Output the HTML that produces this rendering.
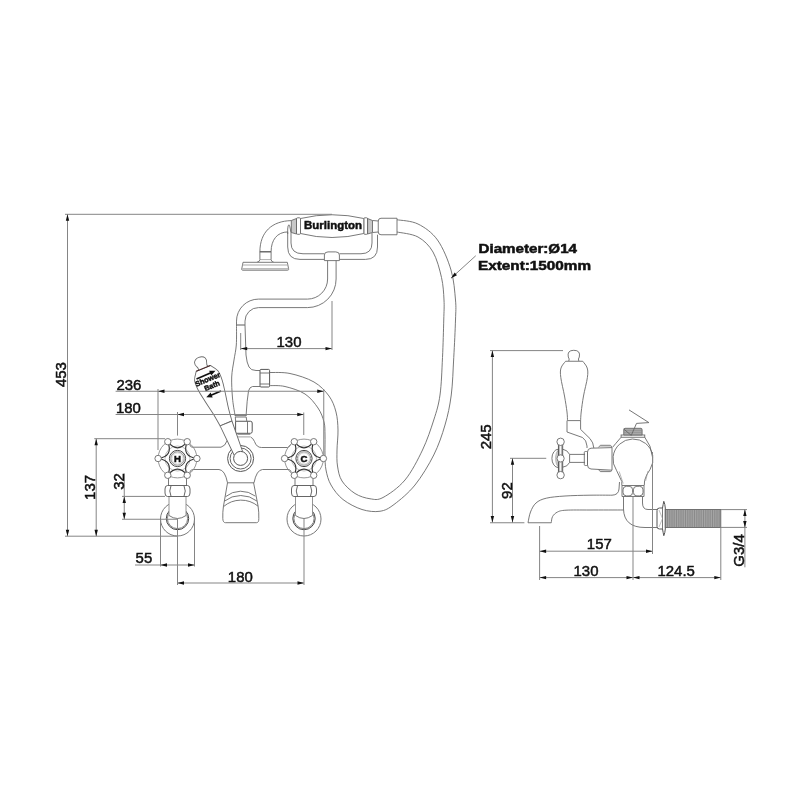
<!DOCTYPE html>
<html><head><meta charset="utf-8"><style>
html,body{margin:0;padding:0;background:#fff;}
svg{display:block;will-change:transform;}
text{font-family:"Liberation Sans",sans-serif;fill:#111;stroke:#111;stroke-width:0.5px;}
</style></head><body>
<svg width="800" height="800" viewBox="0 0 800 800">
<rect width="800" height="800" fill="#fff"/>
<path d="M269.40,385.60 C272.00,385.75 279.07,385.10 285.00,386.50 C290.93,387.90 299.50,390.42 305.00,394.00 C310.50,397.58 314.83,403.33 318.00,408.00 C321.17,412.67 322.83,417.50 324.00,422.00 C325.17,426.50 324.83,429.50 325.00,435.00 C325.17,440.50 324.83,449.17 325.00,455.00 C325.17,460.83 325.00,465.00 326.00,470.00 C327.00,475.00 328.17,480.08 331.00,485.00 C333.83,489.92 337.83,495.42 343.00,499.50 C348.17,503.58 355.83,507.54 362.00,509.50 C368.17,511.46 374.67,512.08 380.00,511.25 C385.33,510.42 388.17,508.88 394.00,504.50 C399.83,500.12 408.38,493.25 415.00,485.00 C421.62,476.75 428.75,465.00 433.75,455.00 C438.75,445.00 442.08,435.00 445.00,425.00 C447.92,415.00 449.79,406.25 451.25,395.00 C452.71,383.75 453.04,370.00 453.75,357.50 C454.46,345.00 455.21,329.58 455.50,320.00 C455.79,310.42 456.25,308.33 455.50,300.00 C454.75,291.67 454.00,280.00 451.00,270.00 C448.00,260.00 443.00,247.67 437.50,240.00 C432.00,232.33 424.75,227.38 418.00,224.00 C411.25,220.62 400.50,220.46 397.00,219.75" stroke="#6a6a6a" stroke-width="0.9" fill="none"/>
<path d="M269.40,372.50 C272.83,372.67 282.57,371.92 290.00,373.50 C297.43,375.08 307.50,378.25 314.00,382.00 C320.50,385.75 325.33,391.00 329.00,396.00 C332.67,401.00 334.50,406.33 336.00,412.00 C337.50,417.67 337.83,423.67 338.00,430.00 C338.17,436.33 337.08,444.00 337.00,450.00 C336.92,456.00 336.67,460.83 337.50,466.00 C338.33,471.17 339.08,476.42 342.00,481.00 C344.92,485.58 350.33,490.54 355.00,493.50 C359.67,496.46 365.33,498.08 370.00,498.75 C374.67,499.42 377.17,500.62 383.00,497.50 C388.83,494.38 398.42,487.92 405.00,480.00 C411.58,472.08 417.71,460.00 422.50,450.00 C427.29,440.00 430.83,429.17 433.75,420.00 C436.67,410.83 438.54,405.42 440.00,395.00 C441.46,384.58 441.88,370.00 442.50,357.50 C443.12,345.00 443.50,329.58 443.75,320.00 C444.00,310.42 444.38,307.08 444.00,300.00 C443.62,292.92 443.33,285.50 441.50,277.50 C439.67,269.50 436.92,258.75 433.00,252.00 C429.08,245.25 424.00,240.33 418.00,237.00 C412.00,233.67 400.50,232.83 397.00,232.00" stroke="#6a6a6a" stroke-width="0.9" fill="none"/>
<path d="M397,218.25 L381,218.25 Q378.25,218.25 378.25,221 L378.25,232 Q378.25,234.75 381,234.75 L397,234.75 Z" stroke="#6a6a6a" stroke-width="0.9"  fill="#fff"/>
<path d="M372.5,220.5 L378.25,221 M372.5,232.5 L378.25,232" stroke="#6a6a6a" stroke-width="0.9" fill="none"/>
<path d="M367.5,218.5 L372.5,220.5 L372.5,232.5 L367.5,234 Z" stroke="#6a6a6a" stroke-width="0.9"  fill="#c8c8c8"/>
<rect x="363.8" y="217.8" width="3.8" height="16.5" rx="1" stroke="#6a6a6a" stroke-width="0.9" fill="none"/>
<path d="M291.3,220.5 L296.5,218.5 L296.5,234 L291.3,232.5 Z" stroke="#6a6a6a" stroke-width="0.9"  fill="#c8c8c8"/>
<rect x="296.5" y="217.8" width="4" height="16.5" rx="1" stroke="#6a6a6a" stroke-width="0.9" fill="none"/>
<path d="M287.7,234 L287.7,229 Q287.9,225 288.9,224.8 Q289.9,225.2 290.8,232" stroke="#6a6a6a" stroke-width="0.9" fill="none"/>
<path d="M300.5,218.5 Q332,211 363.8,218.5 L363.8,233.5 Q332,241.5 300.5,233.5 Z" stroke="#6a6a6a" stroke-width="0.9"  fill="#fff"/>
<text x="333" y="229" font-size="11.6" font-weight="bold" text-anchor="middle" textLength="58" lengthAdjust="spacingAndGlyphs">Burlington</text>
<path d="M287.7,232 L287.7,247 Q287.7,259.4 300,259.4 L324.4,259.4" stroke="#6a6a6a" stroke-width="0.9" fill="none"/>
<path d="M291,232 L291,243 Q291,253.75 303,253.75 L324.4,253.75" stroke="#6a6a6a" stroke-width="0.9" fill="none"/>
<path d="M377.5,234.75 L377.5,247 Q377.5,259.4 365.5,259.4 L339.4,259.4" stroke="#6a6a6a" stroke-width="0.9" fill="none"/>
<path d="M372,233 L372,243 Q372,253.75 361,253.75 L339.4,253.75" stroke="#6a6a6a" stroke-width="0.9" fill="none"/>
<path d="M324.4,260.6 L324.4,255 Q324.4,251.9 328,251.9 L335.8,251.9 Q339.4,251.9 339.4,255 L339.4,260.6 Z" stroke="#6a6a6a" stroke-width="0.9"  fill="#fff"/>
<path d="M327.6,260.6 L327.6,279 A20.1,20.1 0 0 1 307.5,299.1 L258.5,299.1 A22,22 0 0 0 236.5,321.1 L236.5,325" stroke="#6a6a6a" stroke-width="0.9" fill="none"/>
<path d="M336.1,260.6 L336.1,279 A28.6,28.6 0 0 1 307.5,307.6 L258.5,307.6 A13.5,13.5 0 0 0 245,321.1 L245,325" stroke="#6a6a6a" stroke-width="0.9" fill="none"/>
<path d="M236.5,325 L245,325" stroke="#777" stroke-width="1.2" fill="none"/>
<path d="M259.9,251.8 C259.9,232 272,221 291.3,220.6" stroke="#6a6a6a" stroke-width="0.9" fill="none"/>
<path d="M271.1,251.8 C271.1,240 277,232 288,231.9" stroke="#6a6a6a" stroke-width="0.9" fill="none"/>
<path d="M259.8,251.8 L271.1,251.8" stroke="#555" stroke-width="1.3" fill="none"/>
<path d="M260,259.6 L271,259.6" stroke="#999" stroke-width="0.8" fill="none"/>
<path d="M259.9,251.8 L259.9,259.6 Q259.6,262 256.9,262.3 M271.1,251.8 L271.1,259.6 Q271.4,262 273.8,262.3" stroke="#6a6a6a" stroke-width="0.9" fill="none"/>
<path d="M243,262.3 L287.3,262.3 L288.7,269.2 Q288.7,270.2 287.7,270.2 L242.7,270.2 Q241.7,270.2 241.7,269.2 Z" stroke="#6a6a6a" stroke-width="0.9"  fill="#fff"/>
<path d="M242.4,265 L288,265" stroke="#aaa" stroke-width="1.2" fill="none"/>
<path d="M242,268.9 L288.4,268.9" stroke="#bbb" stroke-width="1.6" fill="none"/>
<path d="M236.50,325.00 C236.47,328.33 236.72,339.17 236.30,345.00 C235.88,350.83 234.77,354.67 234.00,360.00 C233.23,365.33 231.95,370.67 231.70,377.00 C231.45,383.33 231.98,391.83 232.50,398.00 C233.02,404.17 234.33,411.00 234.80,414.00 C235.27,417.00 235.22,415.67 235.30,416.00" stroke="#6a6a6a" stroke-width="0.9" fill="none"/>
<path d="M245,325 L246,355 Q246.8,363 249,367 Q251,370.5 256,370.5 L260,370.5" stroke="#6a6a6a" stroke-width="0.9" fill="none"/>
<path d="M260,386.5 L252.5,386.5 Q249.5,387 248.5,391 Q247,400 246.2,414 L246.2,416" stroke="#6a6a6a" stroke-width="0.9" fill="none"/>
<path d="M261,369.4 L268.6,369.4 Q269.6,369.4 269.6,370.6 L269.6,385.8 Q269.6,387 268.6,387 L261,387 Q260,387 260,385.8 L260,370.6 Q260,369.4 261,369.4 Z" stroke="#555" stroke-width="1"  fill="#fff"/>
<path d="M260,373 L269.4,373 M260,384 L269.4,384" stroke="#6a6a6a" stroke-width="0.9" fill="none"/>
<path d="M235,415.6 L246.2,415.6 M235,417 L246.2,417" stroke="#6a6a6a" stroke-width="0.9" fill="none"/>
<path d="M235.6,421.25 L250.5,421.25 Q252.2,421.25 252.2,423 L252.2,431.5 Q252.2,433.3 250.5,433.3 L235.6,433.3 Z" stroke="#555" stroke-width="1"  fill="#fff"/>
<path d="M237.5,434.5 L250.3,434.5 M237.5,436.9 L250.3,436.9" stroke="#888" stroke-width="0.8" fill="none"/>
<path d="M247.5,421.25 L247.5,433.75" stroke="#6a6a6a" stroke-width="0.9" fill="none"/>
<path d="M235.3,417 L235.6,421.25 M246.2,417 L246.8,421.25" stroke="#6a6a6a" stroke-width="0.9" fill="none"/>
<path d="M192.5,447.2 L221,447.2 Q225,446.5 227.5,440 M250.6,437 Q253,438 254.5,441.5 Q256.5,447.5 261.5,447.5 L287.5,447.5" stroke="#6a6a6a" stroke-width="0.9" fill="none"/>
<path d="M192.5,469.5 L219,469.5 Q225,470 227.5,482.8 M289,469.5 L262.5,469.5 Q256.5,470 254,482.8" stroke="#6a6a6a" stroke-width="0.9" fill="none"/>
<path d="M227.5,482.8 L254,482.8" stroke="#6a6a6a" stroke-width="0.9" fill="none"/>
<path d="M227.5,482.8 L223.4,506.7 Q222.6,512 222.8,518.6 Q223,522.7 225.5,522.7 L256.5,522.7 Q258.9,522.7 258.8,518.6 Q259,512 258.1,506.2 L253.6,482.8" stroke="#6a6a6a" stroke-width="0.9" fill="none"/>
<path d="M225.6,496.6 A24.1,24.1 0 0 1 255.3,496.1" stroke="#6a6a6a" stroke-width="0.9" fill="none"/>
<path d="M224.5,501.1 A26.4,26.4 0 0 1 257,501.1" stroke="#6a6a6a" stroke-width="0.9" fill="none"/>
<path d="M223.4,506.7 A27,27 0 0 1 258.1,506.2" stroke="#6a6a6a" stroke-width="0.9" fill="none"/>
<circle cx="240.60" cy="458.50" r="13.0" stroke="#555" stroke-width="1"  fill="none"/>
<circle cx="240.60" cy="458.50" r="10.5" stroke="#555" stroke-width="0.9"  fill="none"/>
<g transform="translate(240.6 458.75) rotate(-22.45)">
<path d="M-6.40,-38.20 C-6.70,-40.50 -7.43,-47.20 -8.20,-52.00 C-8.97,-56.80 -10.20,-62.33 -11.00,-67.00 C-11.80,-71.67 -12.73,-76.17 -13.00,-80.00 C-13.27,-83.83 -13.50,-87.03 -12.60,-90.00 C-11.70,-92.97 -8.43,-96.50 -7.60,-97.80 L7.60,-97.80 C8.43,-96.50 11.70,-92.97 12.60,-90.00 C13.50,-87.03 13.27,-83.83 13.00,-80.00 C12.73,-76.17 11.80,-71.67 11.00,-67.00 C10.20,-62.33 8.97,-56.80 8.20,-52.00 C7.43,-47.20 6.70,-40.50 6.40,-38.20 Z" stroke="#6a6a6a" stroke-width="0.9"  fill="#fff"/>
<path d="M-5,-97.9 Q-4.3,-100 -5.3,-101.6 Q-6.8,-103.6 -5.8,-106.6 Q-4.2,-109.6 0,-109.6 Q4.2,-109.6 5.8,-106.6 Q6.8,-103.6 5.3,-101.6 Q4.3,-100 5,-97.9" stroke="#6a6a6a" stroke-width="0.9"  fill="#fff"/>
<path d="M-7.6,-97.8 L7.6,-97.8" stroke="#4a2a2a" stroke-width="1" fill="none"/>
<path d="M-6.4,-38.2 L-4.6,-6 L4.6,-6 L6.4,-38.2 Z" stroke="none" fill="#fff"/>
<path d="M-6.4,-38.2 L6.4,-38.2 M-6.4,-38.2 L-4.6,-6 M6.4,-38.2 L4.6,-6" stroke="#6a6a6a" stroke-width="0.9" fill="none"/>
</g>
<circle cx="240.60" cy="458.40" r="7.0" stroke="#555" stroke-width="1"  fill="#fff"/>
<g transform="translate(208.6 381.6) rotate(-22.45)">
<text x="0" y="0" font-size="7.3" font-weight="bold" text-anchor="middle" style="stroke-width:0.45px">Shower</text>
<text x="1.5" y="7.6" font-size="7.3" font-weight="bold" text-anchor="middle" style="stroke-width:0.45px">Bath</text>
</g>
<polygon points="215.50,370.80 211.21,375.49 209.14,370.72" fill="#111"/>
<line x1="196.5" y1="379" x2="211.5" y2="372.5" stroke="#111" stroke-width="1.7"/>
<polygon points="206.30,397.20 210.67,392.58 212.65,397.38" fill="#111"/>
<line x1="221" y1="391" x2="211" y2="395.2" stroke="#111" stroke-width="1.7"/>
<path d="M192.5,447.5 Q190,446.8 189.8,444.5" stroke="#6a6a6a" stroke-width="0.9" fill="none"/>
<path d="M192.5,469.5 Q190,470.2 189.8,472.5" stroke="#6a6a6a" stroke-width="0.9" fill="none"/>
<path d="M287.5,447.5 Q290,446.8 290.5,444.5" stroke="#6a6a6a" stroke-width="0.9" fill="none"/>
<path d="M289,469.5 Q291,470.2 291.3,472.5" stroke="#6a6a6a" stroke-width="0.9" fill="none"/>
<path d="M168.5,478 L168.5,485.5 M186.5,478 L186.5,485.5" stroke="#6a6a6a" stroke-width="0.9" fill="none"/>
<circle cx="177.50" cy="519.00" r="17" stroke="#6a6a6a" stroke-width="0.9"  fill="none"/>
<circle cx="177.50" cy="518.50" r="11.2" stroke="#444" stroke-width="1"  fill="none"/>
<circle cx="177.50" cy="518.50" r="10.1" stroke="#666" stroke-width="0.8"  fill="none"/>
<path d="M169.0,496.5 L169.0,515.5 Q177.5,521.5 186.0,515.5 L186.0,496.5" stroke="none" fill="#fff"/>
<path d="M169.0,496.5 L169.0,515.5 M186.0,515.5 L186.0,496.5" stroke="#888" stroke-width="0.9" fill="none"/>
<path d="M169.0,515.5 Q177.5,521.5 186.0,515.5" stroke="#6a6a6a" stroke-width="0.9" fill="none"/>
<path d="M167.5,485.5 L187.5,485.5 Q190.0,485.5 190.0,489 L190.0,493 Q190.0,496.5 187.5,496.5 L167.5,496.5 Q165.0,496.5 165.0,493 L165.0,489 Q165.0,485.5 167.5,485.5 Z" stroke="#555" stroke-width="0.9"  fill="#fff"/>
<path d="M171.0,485.8 Q168.5,491 171.0,496.2 M184.0,485.8 Q186.5,491 184.0,496.2" stroke="#555" stroke-width="0.9" fill="none"/>
<path d="M295,478 L295,485.5 M313,478 L313,485.5" stroke="#6a6a6a" stroke-width="0.9" fill="none"/>
<circle cx="304.00" cy="519.00" r="17" stroke="#6a6a6a" stroke-width="0.9"  fill="none"/>
<circle cx="304.00" cy="518.50" r="11.2" stroke="#444" stroke-width="1"  fill="none"/>
<circle cx="304.00" cy="518.50" r="10.1" stroke="#666" stroke-width="0.8"  fill="none"/>
<path d="M295.5,496.5 L295.5,515.5 Q304,521.5 312.5,515.5 L312.5,496.5" stroke="none" fill="#fff"/>
<path d="M295.5,496.5 L295.5,515.5 M312.5,515.5 L312.5,496.5" stroke="#888" stroke-width="0.9" fill="none"/>
<path d="M295.5,515.5 Q304,521.5 312.5,515.5" stroke="#6a6a6a" stroke-width="0.9" fill="none"/>
<path d="M294,485.5 L314,485.5 Q316.5,485.5 316.5,489 L316.5,493 Q316.5,496.5 314,496.5 L294,496.5 Q291.5,496.5 291.5,493 L291.5,489 Q291.5,485.5 294,485.5 Z" stroke="#555" stroke-width="0.9"  fill="#fff"/>
<path d="M297.5,485.8 Q295,491 297.5,496.2 M310.5,485.8 Q313,491 310.5,496.2" stroke="#555" stroke-width="0.9" fill="none"/>
<circle cx="177.50" cy="458.50" r="19.4" stroke="#8a8a8a" stroke-width="0.9"  fill="none"/>
<circle cx="177.50" cy="458.50" r="12.5" stroke="#aaa" stroke-width="0.8"  fill="none"/>
<path d="M196.90,458.50 Q181.40,456.25 187.20,441.70" stroke="#333" stroke-width="1.15" fill="none"/>
<path d="M187.20,441.70 Q177.50,454.00 167.80,441.70" stroke="#333" stroke-width="1.15" fill="none"/>
<path d="M167.80,441.70 Q173.60,456.25 158.10,458.50" stroke="#333" stroke-width="1.15" fill="none"/>
<path d="M158.10,458.50 Q173.60,460.75 167.80,475.30" stroke="#333" stroke-width="1.15" fill="none"/>
<path d="M167.80,475.30 Q177.50,463.00 187.20,475.30" stroke="#333" stroke-width="1.15" fill="none"/>
<path d="M187.20,475.30 Q181.40,460.75 196.90,458.50" stroke="#333" stroke-width="1.15" fill="none"/>
<circle cx="177.50" cy="458.50" r="8.1" stroke="#444" stroke-width="1"  fill="#fff"/>
<circle cx="177.50" cy="458.50" r="6.7" stroke="#777" stroke-width="0.8"  fill="none"/>
<circle cx="177.50" cy="458.50" r="5.6" stroke="#bbb" stroke-width="0.6"  fill="none"/>
<circle cx="196.90" cy="458.50" r="3.2" stroke="#6a6a6a" stroke-width="0.9"  fill="#fff"/>
<circle cx="187.20" cy="441.70" r="3.2" stroke="#6a6a6a" stroke-width="0.9"  fill="#fff"/>
<circle cx="167.80" cy="441.70" r="3.2" stroke="#6a6a6a" stroke-width="0.9"  fill="#fff"/>
<circle cx="158.10" cy="458.50" r="3.2" stroke="#6a6a6a" stroke-width="0.9"  fill="#fff"/>
<circle cx="167.80" cy="475.30" r="3.2" stroke="#6a6a6a" stroke-width="0.9"  fill="#fff"/>
<circle cx="187.20" cy="475.30" r="3.2" stroke="#6a6a6a" stroke-width="0.9"  fill="#fff"/>
<text x="177.5" y="461.9" font-size="9.6" font-weight="bold" text-anchor="middle">H</text>
<circle cx="304.00" cy="458.50" r="19.4" stroke="#8a8a8a" stroke-width="0.9"  fill="none"/>
<circle cx="304.00" cy="458.50" r="12.5" stroke="#aaa" stroke-width="0.8"  fill="none"/>
<path d="M323.40,458.50 Q307.90,456.25 313.70,441.70" stroke="#333" stroke-width="1.15" fill="none"/>
<path d="M313.70,441.70 Q304.00,454.00 294.30,441.70" stroke="#333" stroke-width="1.15" fill="none"/>
<path d="M294.30,441.70 Q300.10,456.25 284.60,458.50" stroke="#333" stroke-width="1.15" fill="none"/>
<path d="M284.60,458.50 Q300.10,460.75 294.30,475.30" stroke="#333" stroke-width="1.15" fill="none"/>
<path d="M294.30,475.30 Q304.00,463.00 313.70,475.30" stroke="#333" stroke-width="1.15" fill="none"/>
<path d="M313.70,475.30 Q307.90,460.75 323.40,458.50" stroke="#333" stroke-width="1.15" fill="none"/>
<circle cx="304.00" cy="458.50" r="8.1" stroke="#444" stroke-width="1"  fill="#fff"/>
<circle cx="304.00" cy="458.50" r="6.7" stroke="#777" stroke-width="0.8"  fill="none"/>
<circle cx="304.00" cy="458.50" r="5.6" stroke="#bbb" stroke-width="0.6"  fill="none"/>
<circle cx="323.40" cy="458.50" r="3.2" stroke="#6a6a6a" stroke-width="0.9"  fill="#fff"/>
<circle cx="313.70" cy="441.70" r="3.2" stroke="#6a6a6a" stroke-width="0.9"  fill="#fff"/>
<circle cx="294.30" cy="441.70" r="3.2" stroke="#6a6a6a" stroke-width="0.9"  fill="#fff"/>
<circle cx="284.60" cy="458.50" r="3.2" stroke="#6a6a6a" stroke-width="0.9"  fill="#fff"/>
<circle cx="294.30" cy="475.30" r="3.2" stroke="#6a6a6a" stroke-width="0.9"  fill="#fff"/>
<circle cx="313.70" cy="475.30" r="3.2" stroke="#6a6a6a" stroke-width="0.9"  fill="#fff"/>
<text x="304" y="461.9" font-size="9.6" font-weight="bold" text-anchor="middle">C</text>
<path d="M528.00,522.75 C528.42,520.96 529.17,515.29 530.50,512.00 C531.83,508.71 533.38,505.30 536.00,503.00 C538.62,500.70 541.42,499.37 546.25,498.20 C551.08,497.03 557.71,496.50 565.00,496.00 C572.29,495.50 582.17,495.33 590.00,495.20 C597.83,495.07 608.33,495.20 612.00,495.20" stroke="#6a6a6a" stroke-width="0.9" fill="none"/>
<path d="M612,495.2 Q618.5,495 619,489 L619.5,482" stroke="#6a6a6a" stroke-width="0.9" fill="none"/>
<path d="M528,522.75 L551.25,522.75" stroke="#6a6a6a" stroke-width="0.9" fill="none"/>
<path d="M551.25,522.75 C551.48,521.71 551.56,518.29 552.60,516.50 C553.64,514.71 555.27,513.05 557.50,512.00 C559.73,510.95 560.58,510.53 566.00,510.20 C571.42,509.87 580.42,510.03 590.00,510.00 C599.58,509.97 617.92,510.00 623.50,510.00" stroke="#6a6a6a" stroke-width="0.9" fill="none"/>
<path d="M623.5,496.5 L623.5,509 Q624,527.5 645,527.5 L657,527.5" stroke="#6a6a6a" stroke-width="0.9" fill="none"/>
<path d="M642.5,496.5 L642.5,503 Q642.5,509.5 648,509.5 L657,509.5" stroke="#6a6a6a" stroke-width="0.9" fill="none"/>
<path d="M622,485.5 L644,485.5 L644,496.5 L622,496.5 Z" stroke="#6a6a6a" stroke-width="0.9"  fill="#fff"/>
<rect x="623" y="486.3" width="9.6" height="9.6" rx="3.5" stroke="#6a6a6a" stroke-width="0.9" fill="none"/>
<rect x="633.4" y="486.3" width="9.6" height="9.6" rx="3.5" stroke="#6a6a6a" stroke-width="0.9" fill="none"/>
<path d="M616.46,470.24 A20,20 0 1 1 650.14,469.3" stroke="#6a6a6a" stroke-width="0.9" fill="none"/>
<path d="M616.46,470.24 L621.8,481.5 L621.8,485.5 M650.14,469.3 Q646,475 644.6,480.5 L644.3,485.5" stroke="#6a6a6a" stroke-width="0.9" fill="none"/>
<path d="M619.2,471.5 L623.2,483.5 M648,471 L645.6,481" stroke="#999" stroke-width="0.7" fill="none"/>
<path d="M612.5,447.4 L615.9,443.3 L621.1,437.25 M644.75,437.25 L650,446.25 L652.6,457.5" stroke="#6a6a6a" stroke-width="0.9" fill="none"/>
<rect x="621.1" y="435" width="23.65" height="2.25" rx="0" stroke="#6a6a6a" stroke-width="0.9" fill="none"/>
<path d="M625,428.3 L641,428.3 Q642.1,428.3 642.1,430 L642.1,435 L623.75,435 L623.75,430 Q623.75,428.3 625,428.3 Z" stroke="#6a6a6a" stroke-width="0.9"  fill="#a8a8a8"/>
<path d="M624,430.5 L642,430.5 M624,432.5 L642,432.5" stroke="#888" stroke-width="0.5" fill="none"/>
<path d="M629,409.9 L648.9,422.6 L636.5,423.4 L631.25,435.4 L623.75,429" stroke="#666" stroke-width="0.9" fill="none"/>
<path d="M612,447.6 L591,448.2 Q587.5,448.6 587.5,452 L587.5,465 Q587.5,468.6 591,469 L612,470.2 Z" stroke="#6a6a6a" stroke-width="0.9"  fill="#fff"/>
<path d="M598.5,447.4 L600.3,445.3 L610.3,445.3 L612,446.8 M598.5,469.6 L600.3,471.6 L610.3,471.6 L612,470.5" stroke="#6a6a6a" stroke-width="0.9" fill="none"/>
<path d="M599.5,446.4 L611,446.4 M599.5,470.6 L611,470.6" stroke="#aaa" stroke-width="0.6" fill="none"/>
<rect x="584.3" y="451.5" width="3.2" height="14" rx="1" stroke="#6a6a6a" stroke-width="0.9" fill="none"/>
<path d="M562.7,449.2 Q567.5,450 569.6,454.4 L585,454.4 M562.7,467.2 Q567.5,466.8 569.6,462.4 L585,462.4 M569.6,454.4 L569.6,462.4" stroke="#6a6a6a" stroke-width="0.9" fill="none"/>
<path d="M558.4,449.2 A6.5,9.2 0 0 0 558.4,467.6 Z" stroke="#6a6a6a" stroke-width="0.9"  fill="#fff"/>
<path d="M558.4,450.6 A2.8,7.8 0 0 0 558.4,466.2 Z" stroke="#999" stroke-width="0.6"  fill="#d0d0d0"/>
<rect x="558.4" y="443" width="4.3" height="31" rx="0" stroke="#444" stroke-width="0.9"  fill="#fff"/>
<path d="M559.6,443 L559.6,474 M561.5,443 L561.5,474" stroke="#888" stroke-width="0.6" fill="none"/>
<circle cx="560.60" cy="458.40" r="3.6" stroke="#6a6a6a" stroke-width="0.9"  fill="#fff"/>
<circle cx="560.60" cy="441.80" r="3.7" stroke="#6a6a6a" stroke-width="0.9"  fill="#fff"/>
<circle cx="560.60" cy="475.10" r="3.7" stroke="#6a6a6a" stroke-width="0.9"  fill="#fff"/>
<path d="M567,420.6 L567,432 L582.5,437.5 Q586.5,440 587,446 L587,448 M580.6,420.6 L580.6,429.4 L590,438.6 Q593.5,442.5 593.8,448" stroke="#6a6a6a" stroke-width="0.9" fill="none"/>
<path d="M565.60,361.25 C564.83,362.38 561.80,365.29 561.00,368.00 C560.20,370.71 560.22,372.83 560.80,377.50 C561.38,382.17 563.47,390.25 564.50,396.00 C565.53,401.75 566.50,407.90 567.00,412.00 C567.50,416.10 567.42,419.17 567.50,420.60" stroke="#6a6a6a" stroke-width="0.9" fill="none"/>
<path d="M582.75,361.25 C583.49,362.38 586.43,365.29 587.20,368.00 C587.98,370.71 588.02,372.83 587.40,377.50 C586.78,382.17 584.53,390.25 583.50,396.00 C582.47,401.75 581.68,407.90 581.20,412.00 C580.72,416.10 580.70,419.17 580.60,420.60" stroke="#6a6a6a" stroke-width="0.9" fill="none"/>
<path d="M567.5,420.6 L580.6,420.6" stroke="#6a6a6a" stroke-width="0.9" fill="none"/>
<path d="M565.6,361.25 L582.75,361.25" stroke="#6a6a6a" stroke-width="0.9" fill="none"/>
<path d="M568.8,361 Q569.8,359 568.3,357 Q566.8,350.3 573.8,350.3 Q580.8,350.3 579.3,357 Q577.8,359 578.8,361" stroke="#6a6a6a" stroke-width="0.9" fill="none"/>
<path d="M657,510.5 Q657,508 659.5,508 L662.5,508 Q663.2,504 663.8,501.3 Q665,504 665.3,508 L665.3,529 Q665,533 663.8,535.7 Q663.2,533 662.5,529 L659.5,529 Q657,529 657,526.5 Z" stroke="#555" stroke-width="1"  fill="#fff"/>
<path d="M662.5,508 L662.5,529" stroke="#555" stroke-width="0.8" fill="none"/>
<path d="M659,510 L662.5,518.5 L659,527" stroke="#999" stroke-width="0.6" fill="none"/>
<rect x="665.3" y="509.5" width="55.5" height="18" rx="0" stroke="#666" stroke-width="0.9" fill="#a4a4a4"/>
<path d="M667.5,510 L667.5,527 M669.8,510 L669.8,527 M672.0,510 L672.0,527 M674.2,510 L674.2,527 M676.5,510 L676.5,527 M678.8,510 L678.8,527 M681.0,510 L681.0,527 M683.2,510 L683.2,527 M685.5,510 L685.5,527 M687.8,510 L687.8,527 M690.0,510 L690.0,527 M692.2,510 L692.2,527 M694.5,510 L694.5,527 M696.8,510 L696.8,527 M699.0,510 L699.0,527 M701.2,510 L701.2,527 M703.5,510 L703.5,527 M705.8,510 L705.8,527 M708.0,510 L708.0,527 M710.2,510 L710.2,527 M712.5,510 L712.5,527 M714.8,510 L714.8,527 M717.0,510 L717.0,527 M719.2,510 L719.2,527" stroke="#808080" stroke-width="0.7" fill="none"/>
<line x1="65" y1="214.3" x2="332" y2="214.3" stroke="#858585" stroke-width="1" fill="none"/>
<line x1="67.5" y1="214.3" x2="67.5" y2="536.2" stroke="#858585" stroke-width="1" fill="none"/>
<polygon points="67.50,214.30 69.20,220.80 65.80,220.80" fill="#111"/>
<polygon points="67.50,536.20 65.80,529.70 69.20,529.70" fill="#111"/>
<line x1="65" y1="536.2" x2="177.5" y2="536.2" stroke="#858585" stroke-width="1" fill="none"/>
<text x="66.3" y="374.6" font-size="15.5" font-weight="normal" text-anchor="middle" transform="rotate(-90 66.3 374.6)" textLength="24.95" lengthAdjust="spacingAndGlyphs">453</text>
<line x1="115.6" y1="391.25" x2="323.75" y2="391.25" stroke="#858585" stroke-width="1" fill="none"/>
<polygon points="158.00,391.25 164.50,389.55 164.50,392.95" fill="#111"/>
<polygon points="323.75,391.25 317.25,392.95 317.25,389.55" fill="#111"/>
<line x1="158" y1="389" x2="158" y2="450" stroke="#858585" stroke-width="1" fill="none"/>
<line x1="323.75" y1="389" x2="323.75" y2="455" stroke="#858585" stroke-width="1" fill="none"/>
<text x="116.5" y="390.2" font-size="15.5" font-weight="normal" text-anchor="start" textLength="24.95" lengthAdjust="spacingAndGlyphs">236</text>
<line x1="115.6" y1="414.5" x2="303.75" y2="414.5" stroke="#858585" stroke-width="1" fill="none"/>
<polygon points="177.50,414.50 184.00,412.80 184.00,416.20" fill="#111"/>
<polygon points="303.75,414.50 297.25,416.20 297.25,412.80" fill="#111"/>
<line x1="177.5" y1="412" x2="177.5" y2="435.6" stroke="#858585" stroke-width="1" fill="none"/>
<line x1="303.75" y1="412.5" x2="303.75" y2="435" stroke="#858585" stroke-width="1" fill="none"/>
<text x="116.0" y="413.3" font-size="15.5" font-weight="normal" text-anchor="start" textLength="24.95" lengthAdjust="spacingAndGlyphs">180</text>
<line x1="96.2" y1="438.7" x2="96.2" y2="536.2" stroke="#858585" stroke-width="1" fill="none"/>
<polygon points="96.20,438.70 97.90,445.20 94.50,445.20" fill="#111"/>
<polygon points="96.20,536.20 94.50,529.70 97.90,529.70" fill="#111"/>
<line x1="94.25" y1="438.7" x2="165" y2="438.7" stroke="#858585" stroke-width="1" fill="none"/>
<text x="95.2" y="487.4" font-size="15.5" font-weight="normal" text-anchor="middle" transform="rotate(-90 95.2 487.4)" textLength="24.95" lengthAdjust="spacingAndGlyphs">137</text>
<line x1="124.25" y1="473.5" x2="124.25" y2="519.25" stroke="#858585" stroke-width="1" fill="none"/>
<polygon points="124.25,496.40 125.95,502.90 122.55,502.90" fill="#111"/>
<polygon points="124.25,519.25 122.55,512.75 125.95,512.75" fill="#111"/>
<line x1="122" y1="496.4" x2="165" y2="496.4" stroke="#858585" stroke-width="1" fill="none"/>
<line x1="122" y1="519.25" x2="177.5" y2="519.25" stroke="#858585" stroke-width="1" fill="none"/>
<text x="123.6" y="481.4" font-size="15.5" font-weight="normal" text-anchor="middle" transform="rotate(-90 123.6 481.4)" textLength="16.63" lengthAdjust="spacingAndGlyphs">32</text>
<line x1="135" y1="565" x2="194.5" y2="565" stroke="#858585" stroke-width="1" fill="none"/>
<polygon points="160.50,565.00 167.00,563.30 167.00,566.70" fill="#111"/>
<polygon points="194.50,565.00 188.00,566.70 188.00,563.30" fill="#111"/>
<line x1="160.5" y1="520" x2="160.5" y2="566.5" stroke="#858585" stroke-width="1" fill="none"/>
<line x1="194.5" y1="520" x2="194.5" y2="566.5" stroke="#858585" stroke-width="1" fill="none"/>
<text x="135.6" y="563.3" font-size="15.5" font-weight="normal" text-anchor="start" textLength="16.63" lengthAdjust="spacingAndGlyphs">55</text>
<line x1="177.5" y1="583" x2="304" y2="583" stroke="#858585" stroke-width="1" fill="none"/>
<polygon points="177.50,583.00 184.00,581.30 184.00,584.70" fill="#111"/>
<polygon points="304.00,583.00 297.50,584.70 297.50,581.30" fill="#111"/>
<line x1="177.5" y1="518.5" x2="177.5" y2="585" stroke="#858585" stroke-width="1" fill="none"/>
<line x1="304" y1="518.5" x2="304" y2="585" stroke="#858585" stroke-width="1" fill="none"/>
<text x="240.3" y="581.7" font-size="15.5" font-weight="normal" text-anchor="middle" textLength="24.95" lengthAdjust="spacingAndGlyphs">180</text>
<line x1="240.7" y1="348.6" x2="332" y2="348.6" stroke="#858585" stroke-width="1" fill="none"/>
<polygon points="240.70,348.60 247.20,346.90 247.20,350.30" fill="#111"/>
<polygon points="332.00,348.60 325.50,350.30 325.50,346.90" fill="#111"/>
<line x1="240.7" y1="333" x2="240.7" y2="350" stroke="#858585" stroke-width="1" fill="none"/>
<line x1="332" y1="301" x2="332" y2="350" stroke="#858585" stroke-width="1" fill="none"/>
<text x="289" y="346.8" font-size="15.5" font-weight="normal" text-anchor="middle" textLength="24.95" lengthAdjust="spacingAndGlyphs">130</text>
<line x1="475.75" y1="255.75" x2="451" y2="278.25" stroke="#858585" stroke-width="1" fill="none"/>
<polygon points="451.00,278.25 454.67,272.62 456.95,275.14" fill="#111"/>
<text x="478.5" y="252.8" font-size="12.4" font-weight="bold" text-anchor="start" textLength="98.5" lengthAdjust="spacingAndGlyphs">Diameter:&#216;14</text>
<text x="478.0" y="269.9" font-size="12.4" font-weight="bold" text-anchor="start" textLength="113" lengthAdjust="spacingAndGlyphs">Extent:1500mm</text>
<line x1="490" y1="350.6" x2="563" y2="350.6" stroke="#858585" stroke-width="1" fill="none"/>
<line x1="492.4" y1="350.6" x2="492.4" y2="522.6" stroke="#858585" stroke-width="1" fill="none"/>
<polygon points="492.40,350.60 494.10,357.10 490.70,357.10" fill="#111"/>
<polygon points="492.40,522.60 490.70,516.10 494.10,516.10" fill="#111"/>
<line x1="490" y1="522.75" x2="524.4" y2="522.75" stroke="#858585" stroke-width="1" fill="none"/>
<text x="491.3" y="436.8" font-size="15.5" font-weight="normal" text-anchor="middle" transform="rotate(-90 491.3 436.8)" textLength="24.95" lengthAdjust="spacingAndGlyphs">245</text>
<line x1="510" y1="458.3" x2="546.25" y2="458.3" stroke="#858585" stroke-width="1" fill="none"/>
<line x1="512.5" y1="458.3" x2="512.5" y2="522.6" stroke="#858585" stroke-width="1" fill="none"/>
<polygon points="512.50,458.30 514.20,464.80 510.80,464.80" fill="#111"/>
<polygon points="512.50,522.60 510.80,516.10 514.20,516.10" fill="#111"/>
<text x="511.6" y="490.6" font-size="15.5" font-weight="normal" text-anchor="middle" transform="rotate(-90 511.6 490.6)" textLength="16.63" lengthAdjust="spacingAndGlyphs">92</text>
<line x1="539.6" y1="551.2" x2="652.5" y2="551.2" stroke="#858585" stroke-width="1" fill="none"/>
<polygon points="539.60,551.20 546.10,549.50 546.10,552.90" fill="#111"/>
<polygon points="652.50,551.20 646.00,552.90 646.00,549.50" fill="#111"/>
<text x="599.3" y="549.4" font-size="15.5" font-weight="normal" text-anchor="middle" textLength="24.95" lengthAdjust="spacingAndGlyphs">157</text>
<line x1="539.6" y1="577.6" x2="633" y2="577.6" stroke="#858585" stroke-width="1" fill="none"/>
<polygon points="539.60,577.60 546.10,575.90 546.10,579.30" fill="#111"/>
<polygon points="633.00,577.60 626.50,579.30 626.50,575.90" fill="#111"/>
<text x="586" y="576" font-size="15.5" font-weight="normal" text-anchor="middle" textLength="24.95" lengthAdjust="spacingAndGlyphs">130</text>
<line x1="633" y1="577.6" x2="720.8" y2="577.6" stroke="#858585" stroke-width="1" fill="none"/>
<polygon points="633.00,577.60 639.50,575.90 639.50,579.30" fill="#111"/>
<polygon points="720.80,577.60 714.30,579.30 714.30,575.90" fill="#111"/>
<text x="676.2" y="575.7" font-size="15.5" font-weight="normal" text-anchor="middle" textLength="37.42" lengthAdjust="spacingAndGlyphs">124.5</text>
<line x1="539.6" y1="526" x2="539.6" y2="580" stroke="#858585" stroke-width="1" fill="none"/>
<line x1="633" y1="497" x2="633" y2="580" stroke="#858585" stroke-width="1" fill="none"/>
<line x1="652.5" y1="452" x2="652.5" y2="554" stroke="#858585" stroke-width="1" fill="none"/>
<line x1="720.8" y1="527.4" x2="720.8" y2="580" stroke="#858585" stroke-width="1" fill="none"/>
<line x1="720.8" y1="509.6" x2="747" y2="509.6" stroke="#858585" stroke-width="1" fill="none"/>
<line x1="720.8" y1="527.4" x2="747" y2="527.4" stroke="#858585" stroke-width="1" fill="none"/>
<line x1="744.9" y1="509.6" x2="744.9" y2="567.3" stroke="#858585" stroke-width="1" fill="none"/>
<polygon points="744.90,509.60 746.60,516.10 743.20,516.10" fill="#111"/>
<polygon points="744.90,527.40 743.20,520.90 746.60,520.90" fill="#111"/>
<text x="743.5" y="550.5" font-size="15.5" font-weight="normal" text-anchor="middle" transform="rotate(-90 743.5 550.5)" textLength="32.43" lengthAdjust="spacingAndGlyphs">G3/4</text>
</svg></body></html>
